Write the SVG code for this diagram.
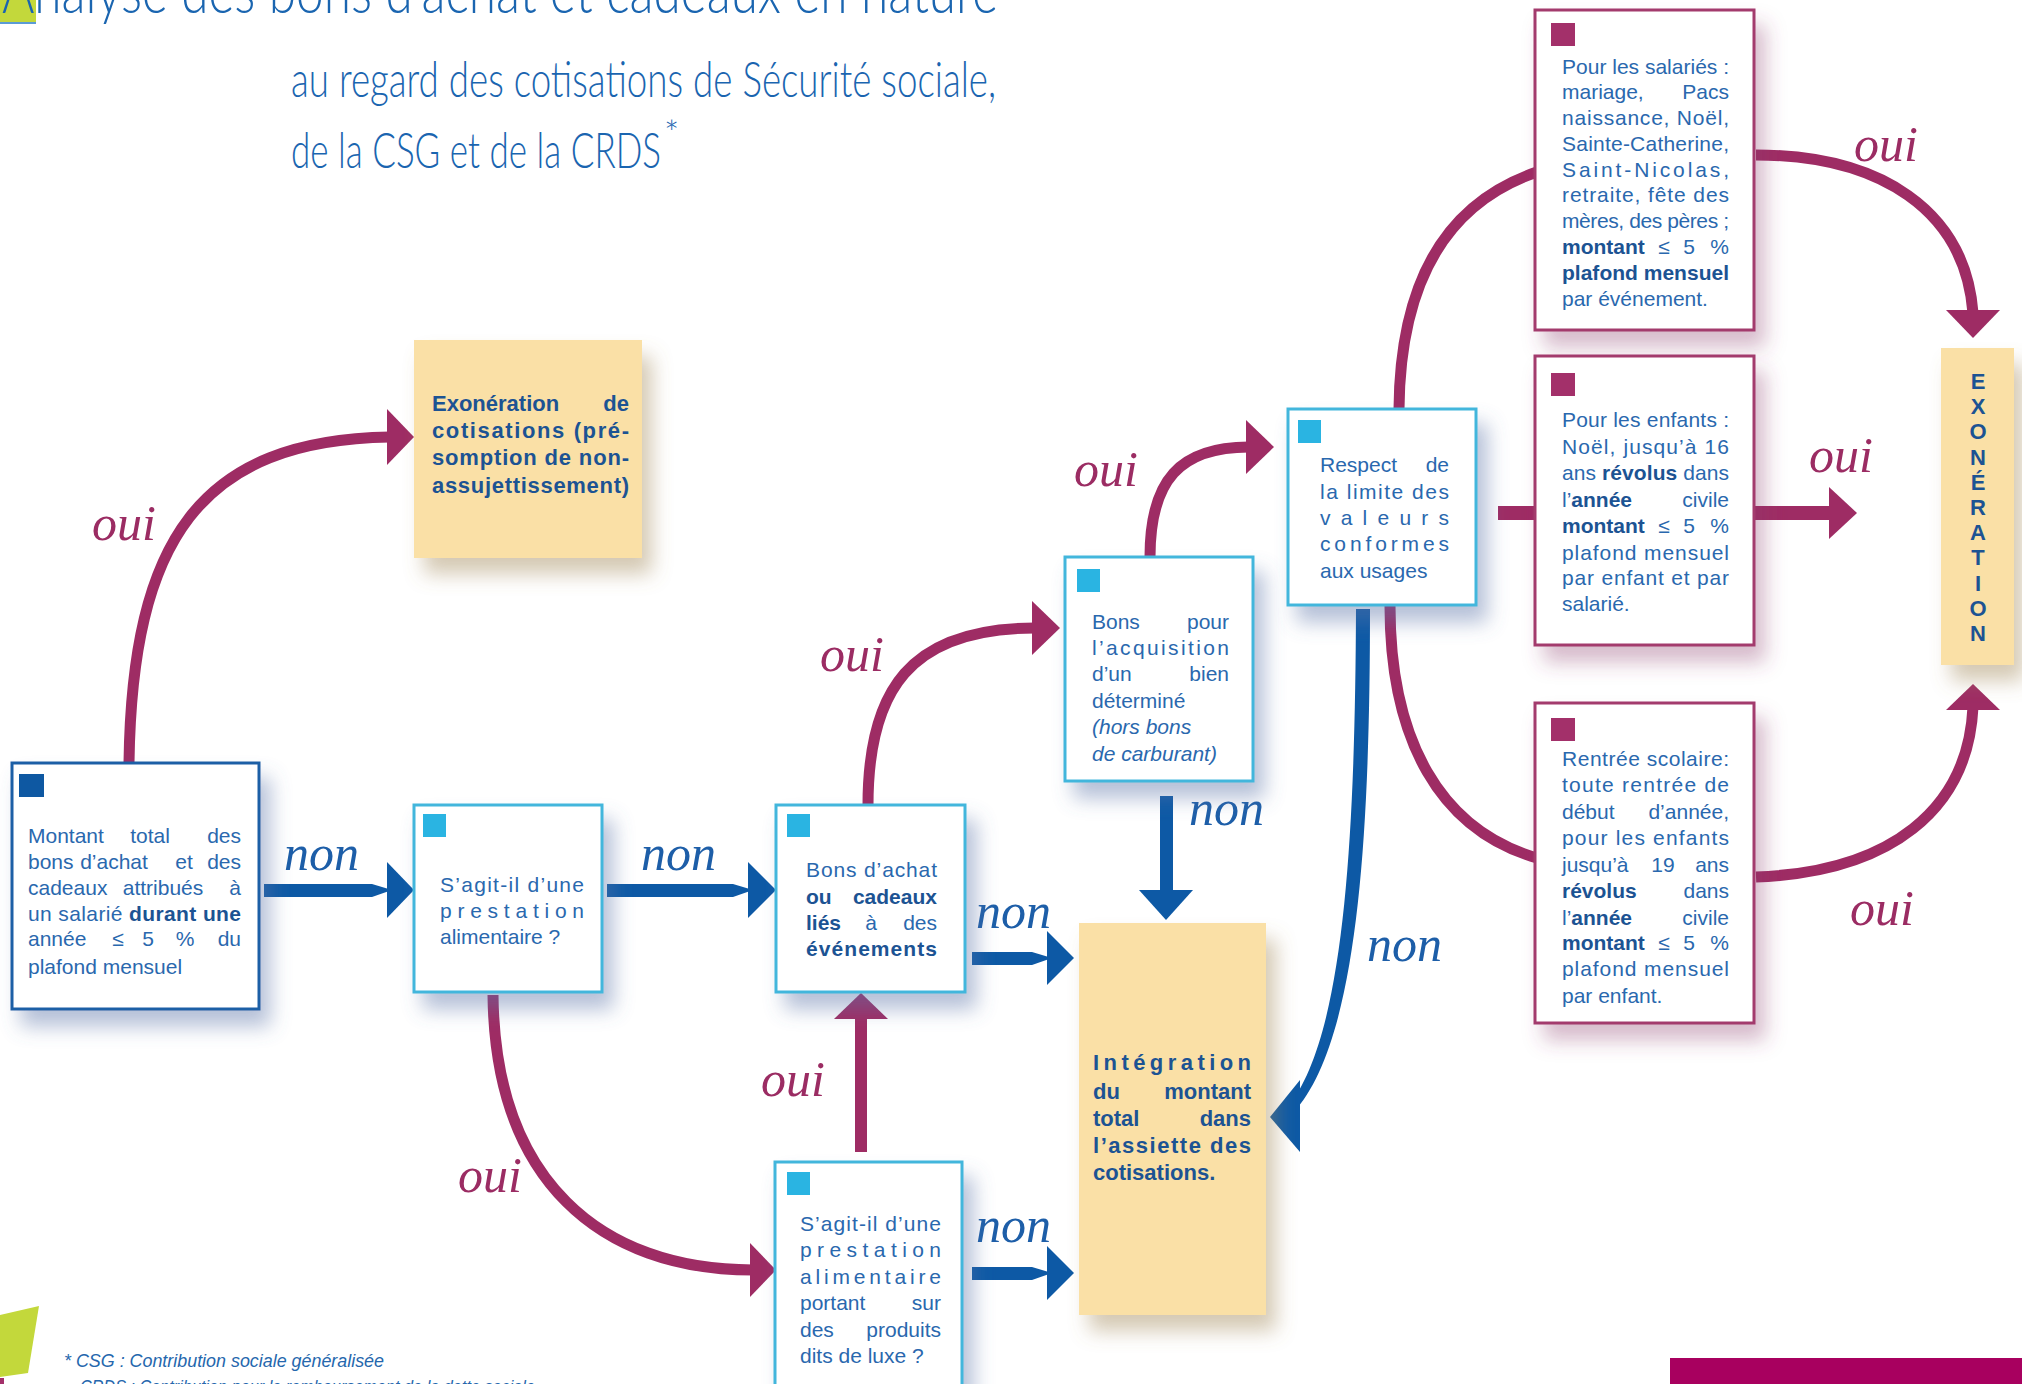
<svg xmlns="http://www.w3.org/2000/svg" width="2022" height="1384" viewBox="0 0 2022 1384">
<defs>
<filter id="shB" x="-20%" y="-20%" width="160%" height="160%"><feDropShadow dx="10" dy="16" stdDeviation="10" flood-color="#5a74a8" flood-opacity="0.45"/></filter>
<filter id="shM" x="-20%" y="-20%" width="160%" height="160%"><feDropShadow dx="10" dy="16" stdDeviation="10" flood-color="#8a3a6a" flood-opacity="0.35"/></filter>
<filter id="shY" x="-20%" y="-20%" width="160%" height="160%"><feDropShadow dx="10" dy="16" stdDeviation="10" flood-color="#a08858" flood-opacity="0.45"/></filter>
</defs>
<style>
.t{font-family:"Liberation Sans",Arial,sans-serif;font-size:21px;fill:#2a68ae}
.b{font-weight:bold;fill:#1c5393}
.bt{font-family:"Liberation Sans",Arial,sans-serif;font-size:22px;font-weight:bold;fill:#1c5393}
.e{text-anchor:end}
.m{text-anchor:middle}
.it{font-style:italic}
.hand{font-family:"Liberation Serif","DejaVu Serif",serif;font-style:italic;font-size:50px}
.oui{fill:#9b2c63}
.non{fill:#1d5ea8}
.bx{fill:#fff;stroke-width:3}
.bb{stroke:#1f5fa6}
.bc{stroke:#43b6dc}
.bm{stroke:#a33a6d}
.y{fill:#fae0a6}
.sqb{fill:#0e58a2}
.sqc{fill:#2ab4e2}
.sqm{fill:#a3306a}
.mc{fill:none;stroke:#9e2c64;stroke-width:11}
.mf{fill:#9e2c64}
.bf{fill:#0d59a5}
.ttl{font-family:Lato,"Liberation Sans",sans-serif;font-weight:300;fill:#1a65b0}
.fn{font-family:"Liberation Sans",Arial,sans-serif;font-style:italic;font-size:19px;fill:#2567ad}
</style>

<g id="header">
<rect x="0" y="0" width="36" height="22" fill="#c3d83b"/>
<rect x="0" y="22" width="36" height="2" fill="#5b9bd5"/>
<text class="ttl" x="2" y="13" font-size="62" textLength="996" lengthAdjust="spacingAndGlyphs">Analyse des bons d’achat et cadeaux en nature</text>
<text class="ttl" x="291" y="97" font-size="50" textLength="705" lengthAdjust="spacingAndGlyphs">au regard des cotisations de Sécurité sociale,</text>
<text class="ttl" x="291" y="168" font-size="50" textLength="370" lengthAdjust="spacingAndGlyphs">de la CSG et de la CRDS</text>
<text class="ttl" x="664" y="146" font-size="36">*</text>
</g>

<g id="connectors">
<!-- A -> B oui -->
<path class="mc" d="M129,763 C132,540 200,440 390,437"/>
<polygon class="mf" points="387,409 414,437 387,465"/>
<!-- A -> C non -->
<polygon class="bf" points="264,884 372,884 392,890 372,897 264,897"/>
<polygon class="bf" points="387,862 414,890 387,918"/>
<!-- C -> D non -->
<polygon class="bf" points="607,884 733,884 753,890 733,897 607,897"/>
<polygon class="bf" points="748,862 776,890 748,918"/>
<!-- D -> H non -->
<polygon class="bf" points="972,952 1032,952 1052,958 1032,965 972,965"/>
<polygon class="bf" points="1047,931 1074,958 1047,985"/>
<!-- G -> H non -->
<polygon class="bf" points="972,1267 1032,1267 1052,1273 1032,1280 972,1280"/>
<polygon class="bf" points="1047,1246 1074,1273 1047,1300"/>
<!-- E -> H non -->
<rect class="bf" x="1160" y="796" width="13" height="97"/>
<polygon class="bf" points="1139,890 1193,890 1166,920"/>
<!-- F -> H non -->
<path class="bf" d="M1356,609 C1355,850 1343,1040 1287,1108 L1293,1113 C1356,1045 1370,850 1370,609 Z"/>
<polygon class="bf" points="1270,1117 1300,1080 1300,1152"/>
<!-- D -> E oui -->
<path class="mc" d="M868,805 C868,690 910,628 1035,628"/>
<polygon class="mf" points="1032,601 1060,628 1032,655"/>
<!-- E -> F oui -->
<path class="mc" d="M1150,557 C1150,480 1180,447 1249,447"/>
<polygon class="mf" points="1246,420 1274,447 1246,474"/>
<!-- C -> G oui -->
<path class="mc" d="M493,995 C495,1180 600,1270 753,1270"/>
<polygon class="mf" points="750,1243 776,1270 750,1297"/>
<!-- G -> D oui -->
<rect class="mf" x="855" y="1016" width="12" height="136"/>
<polygon class="mf" points="834,1019 888,1019 861,993"/>
<!-- F -> I / J / K -->
<path class="mc" d="M1399,409 C1400,290 1440,205 1537,172"/>
<path class="mc" d="M1390,606 C1390,740 1440,830 1537,858"/>
<rect class="mf" x="1498" y="506" width="39" height="14"/>
<!-- I -> L oui -->
<path class="mc" d="M1756,155 C1880,155 1965,210 1973,313"/>
<polygon class="mf" points="1946,310 2000,310 1973,338"/>
<!-- J -> L oui -->
<rect class="mf" x="1754" y="506" width="78" height="14"/>
<polygon class="mf" points="1829,487 1857,513 1829,539"/>
<!-- K -> L oui -->
<path class="mc" d="M1756,877 C1890,872 1968,810 1973,707"/>
<polygon class="mf" points="1946,710 2000,710 1973,684"/>
<!-- labels -->
<text class="hand oui" x="92" y="540">oui</text>
<text class="hand non" x="284" y="870">non</text>
<text class="hand non" x="641" y="870">non</text>
<text class="hand non" x="976" y="928">non</text>
<text class="hand non" x="976" y="1242">non</text>
<text class="hand non" x="1189" y="825">non</text>
<text class="hand non" x="1367" y="961">non</text>
<text class="hand oui" x="820" y="671">oui</text>
<text class="hand oui" x="1074" y="486">oui</text>
<text class="hand oui" x="458" y="1192">oui</text>
<text class="hand oui" x="761" y="1096">oui</text>
<text class="hand oui" x="1854" y="161">oui</text>
<text class="hand oui" x="1809" y="472">oui</text>
<text class="hand oui" x="1850" y="925">oui</text>
</g>

<g id="nodeA">
<rect class="bx bb" x="12" y="763" width="247" height="246" filter="url(#shB)"/>
<rect class="sqb" x="19" y="774" width="25" height="23"/>
<text class="t" x="28" y="843">Montant</text><text class="t m" x="150" y="843">total</text><text class="t e" x="241" y="843">des</text>
<text class="t" x="28" y="869">bons</text><text class="t m" x="114" y="869">d’achat</text><text class="t m" x="184" y="869">et</text><text class="t e" x="241" y="869">des</text>
<text class="t" x="28" y="895">cadeaux</text><text class="t m" x="163" y="895">attribués</text><text class="t e" x="241" y="895">à</text>
<text class="t" x="28" y="921" textLength="213" lengthAdjust="spacing">un salarié <tspan class="b">durant une</tspan></text>
<text class="t" x="28" y="946">année</text><text class="t m" x="118" y="946">≤</text><text class="t m" x="148" y="946">5</text><text class="t m" x="185" y="946">%</text><text class="t e" x="241" y="946">du</text>
<text class="t" x="28" y="974">plafond mensuel</text>
</g>

<g id="nodeB">
<rect class="y" x="414" y="340" width="228" height="218" filter="url(#shY)"/>
<text class="bt" x="432" y="411">Exonération</text><text class="bt e" x="629" y="411">de</text>
<text class="bt" x="432" y="438" textLength="197" lengthAdjust="spacing">cotisations (pré-</text>
<text class="bt" x="432" y="465" textLength="197" lengthAdjust="spacing">somption de non-</text>
<text class="bt" x="432" y="493" textLength="197" lengthAdjust="spacing">assujettissement)</text>
</g>

<g id="nodeC">
<rect class="bx bc" x="414" y="805" width="188" height="187" filter="url(#shB)"/>
<rect class="sqc" x="423" y="814" width="23" height="23"/>
<text class="t" x="440" y="892" textLength="144" lengthAdjust="spacing">S’agit-il d’une</text>
<text class="t" x="440" y="918" textLength="144" lengthAdjust="spacing">prestation</text>
<text class="t" x="440" y="944">alimentaire ?</text>
</g>

<g id="nodeD">
<rect class="bx bc" x="776" y="805" width="189" height="187" filter="url(#shB)"/>
<rect class="sqc" x="787" y="814" width="23" height="23"/>
<text class="t" x="806" y="877" textLength="131" lengthAdjust="spacing">Bons d’achat</text>
<text class="t b" x="806" y="904">ou</text><text class="t b e" x="937" y="904">cadeaux</text>
<text class="t b" x="806" y="930">liés</text><text class="t m" x="871" y="930">à</text><text class="t e" x="937" y="930">des</text>
<text class="t b" x="806" y="956" textLength="131" lengthAdjust="spacing">événements</text>
</g>

<g id="nodeE">
<rect class="bx bc" x="1065" y="557" width="188" height="224" filter="url(#shB)"/>
<rect class="sqc" x="1077" y="569" width="23" height="23"/>
<text class="t" x="1092" y="629">Bons</text><text class="t e" x="1229" y="629">pour</text>
<text class="t" x="1092" y="655" textLength="137" lengthAdjust="spacing">l’acquisition</text>
<text class="t" x="1092" y="681">d’un</text><text class="t e" x="1229" y="681">bien</text>
<text class="t" x="1092" y="708">déterminé</text>
<text class="t it" x="1092" y="734">(hors bons</text>
<text class="t it" x="1092" y="761">de carburant)</text>
</g>

<g id="nodeF">
<rect class="bx bc" x="1288" y="409" width="188" height="196" filter="url(#shB)"/>
<rect class="sqc" x="1298" y="420" width="23" height="23"/>
<text class="t" x="1320" y="472">Respect</text><text class="t e" x="1449" y="472">de</text>
<text class="t" x="1320" y="499" textLength="129" lengthAdjust="spacing">la limite des</text>
<text class="t" x="1320" y="525" textLength="129" lengthAdjust="spacing">valeurs</text>
<text class="t" x="1320" y="551" textLength="129" lengthAdjust="spacing">conformes</text>
<text class="t" x="1320" y="578">aux usages</text>
</g>

<g id="nodeG">
<rect class="bx bc" x="775" y="1162" width="187" height="250" filter="url(#shB)"/>
<rect class="sqc" x="787" y="1172" width="23" height="23"/>
<text class="t" x="800" y="1231" textLength="141" lengthAdjust="spacing">S’agit-il d’une</text>
<text class="t" x="800" y="1257" textLength="141" lengthAdjust="spacing">prestation</text>
<text class="t" x="800" y="1284" textLength="141" lengthAdjust="spacing">alimentaire</text>
<text class="t" x="800" y="1310">portant</text><text class="t e" x="941" y="1310">sur</text>
<text class="t" x="800" y="1337">des</text><text class="t e" x="941" y="1337">produits</text>
<text class="t" x="800" y="1363">dits de luxe ?</text>
</g>

<g id="nodeH">
<rect class="y" x="1079" y="923" width="187" height="392" filter="url(#shY)"/>
<text class="bt" x="1093" y="1070" textLength="158" lengthAdjust="spacing">Intégration</text>
<text class="bt" x="1093" y="1099">du</text><text class="bt e" x="1251" y="1099">montant</text>
<text class="bt" x="1093" y="1126">total</text><text class="bt e" x="1251" y="1126">dans</text>
<text class="bt" x="1093" y="1153" textLength="158" lengthAdjust="spacing">l’assiette des</text>
<text class="bt" x="1093" y="1180">cotisations.</text>
</g>

<g id="nodeI">
<rect class="bx bm" x="1535" y="10" width="219" height="320" filter="url(#shM)"/>
<rect class="sqm" x="1551" y="23" width="24" height="23"/>
<text class="t" x="1562" y="74" textLength="167" lengthAdjust="spacing">Pour les salariés :</text>
<text class="t" x="1562" y="99">mariage,</text><text class="t e" x="1729" y="99">Pacs</text>
<text class="t" x="1562" y="125" textLength="167" lengthAdjust="spacing">naissance, Noël,</text>
<text class="t" x="1562" y="151" textLength="167" lengthAdjust="spacing">Sainte-Catherine,</text>
<text class="t" x="1562" y="177" textLength="167" lengthAdjust="spacing">Saint-Nicolas,</text>
<text class="t" x="1562" y="202" textLength="167" lengthAdjust="spacing">retraite, fête des</text>
<text class="t" x="1562" y="228" textLength="167" lengthAdjust="spacing">mères, des pères ;</text>
<text class="t b" x="1562" y="254">montant</text><text class="t m" x="1664" y="254">≤</text><text class="t m" x="1689" y="254">5</text><text class="t e" x="1729" y="254">%</text>
<text class="t b" x="1562" y="280" textLength="167" lengthAdjust="spacing">plafond mensuel</text>
<text class="t" x="1562" y="306">par événement.</text>
</g>

<g id="nodeJ">
<rect class="bx bm" x="1535" y="356" width="219" height="289" filter="url(#shM)"/>
<rect class="sqm" x="1551" y="373" width="24" height="23"/>
<text class="t" x="1562" y="427" textLength="167" lengthAdjust="spacing">Pour les enfants :</text>
<text class="t" x="1562" y="454" textLength="167" lengthAdjust="spacing">Noël, jusqu’à 16</text>
<text class="t" x="1562" y="480" textLength="167" lengthAdjust="spacing">ans <tspan class="b">révolus</tspan> dans</text>
<text class="t" x="1562" y="507">l’<tspan class="b">année</tspan></text><text class="t e" x="1729" y="507">civile</text>
<text class="t b" x="1562" y="533">montant</text><text class="t m" x="1664" y="533">≤</text><text class="t m" x="1689" y="533">5</text><text class="t e" x="1729" y="533">%</text>
<text class="t" x="1562" y="560" textLength="167" lengthAdjust="spacing">plafond mensuel</text>
<text class="t" x="1562" y="585" textLength="167" lengthAdjust="spacing">par enfant et par</text>
<text class="t" x="1562" y="611">salarié.</text>
</g>

<g id="nodeK">
<rect class="bx bm" x="1535" y="703" width="219" height="320" filter="url(#shM)"/>
<rect class="sqm" x="1551" y="718" width="24" height="23"/>
<text class="t" x="1562" y="766" textLength="167" lengthAdjust="spacing">Rentrée scolaire:</text>
<text class="t" x="1562" y="792" textLength="167" lengthAdjust="spacing">toute rentrée de</text>
<text class="t" x="1562" y="819">début</text><text class="t e" x="1729" y="819">d’année,</text>
<text class="t" x="1562" y="845" textLength="167" lengthAdjust="spacing">pour les enfants</text>
<text class="t" x="1562" y="872">jusqu’à</text><text class="t m" x="1663" y="872">19</text><text class="t e" x="1729" y="872">ans</text>
<text class="t b" x="1562" y="898">révolus</text><text class="t e" x="1729" y="898">dans</text>
<text class="t" x="1562" y="925">l’<tspan class="b">année</tspan></text><text class="t e" x="1729" y="925">civile</text>
<text class="t b" x="1562" y="950">montant</text><text class="t m" x="1664" y="950">≤</text><text class="t m" x="1689" y="950">5</text><text class="t e" x="1729" y="950">%</text>
<text class="t" x="1562" y="976" textLength="167" lengthAdjust="spacing">plafond mensuel</text>
<text class="t" x="1562" y="1003">par enfant.</text>
</g>

<g id="nodeL">
<rect class="y" x="1941" y="348" width="73" height="317" filter="url(#shY)"/>
<text class="bt m" font-size="21">
<tspan x="1978" y="389">E</tspan><tspan x="1978" y="414">X</tspan><tspan x="1978" y="439">O</tspan><tspan x="1978" y="465">N</tspan><tspan x="1978" y="490">É</tspan><tspan x="1978" y="515">R</tspan><tspan x="1978" y="540">A</tspan><tspan x="1978" y="565">T</tspan><tspan x="1978" y="591">I</tspan><tspan x="1978" y="616">O</tspan><tspan x="1978" y="641">N</tspan>
</text>
</g>

<g id="footer">
<polygon points="0,1315 39,1306 28,1373 0,1377" fill="#c3d83b"/>
<rect x="0" y="1378" width="4" height="6" fill="#a3306a"/>
<text class="fn" x="64" y="1367" textLength="320" lengthAdjust="spacingAndGlyphs">* CSG : Contribution sociale généralisée</text>
<text class="fn" x="80" y="1393" textLength="455" lengthAdjust="spacingAndGlyphs">CRDS : Contribution pour le remboursement de la dette sociale</text>
<rect x="1670" y="1358" width="352" height="26" fill="#a8005f"/>
</g>
</svg>
